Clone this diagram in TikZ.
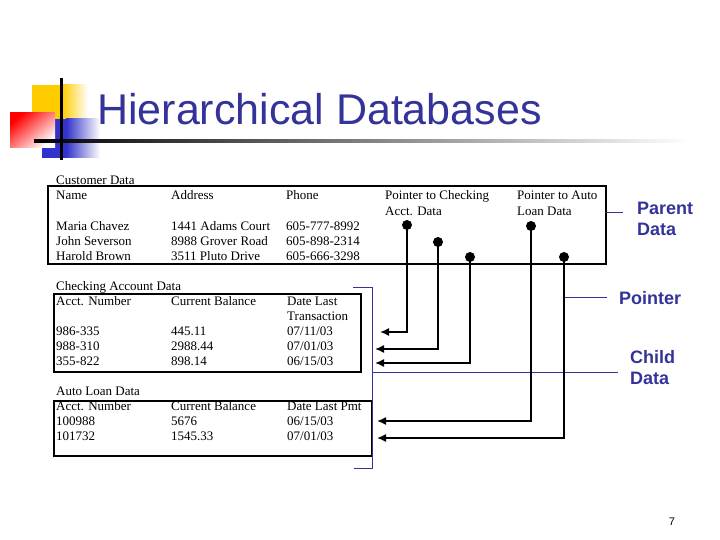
\documentclass[tikz,border=0pt]{standalone}
\usepackage{fontspec}
\setmainfont{Liberation Serif}
\newfontfamily\slidefont{Liberation Sans}
\usepackage{tikz}
\usetikzlibrary{arrows.meta}
\definecolor{slideblue}{HTML}{333399}
\definecolor{logoyellow}{HTML}{FFCC00}
\definecolor{logoblue}{HTML}{3333CC}
\definecolor{logored}{HTML}{FF0000}

\begin{document}
\begin{tikzpicture}[x=1pt,y=-1pt,
  cell/.style={anchor=base west,inner sep=0pt,font=\fontsize{13}{15}\selectfont},
  tbl/.style={draw,line width=1.1pt},
  bullet/.style={circle,fill,inner sep=0pt,minimum size=10pt},
  ptr/.style={line width=1.5pt,-{Latex[length=9pt,width=8pt]}},
  brk/.style={slideblue,line width=0.9pt},
  lbl/.style={anchor=north west,inner sep=0pt,align=left,text=slideblue,font=\slidefont\bfseries\fontsize{18}{21}\selectfont}]
\useasboundingbox (0,0) rectangle (720,540);

% logo and rule
\fill[logoyellow] (32,85) rectangle (62,120);
\shade[left color=logoyellow,right color=white] (62,85) rectangle (88,120);
\fill[logoblue] (42,119) rectangle (66,158);
\shade[left color=logoblue,right color=white] (66,119) rectangle (100,158);
\shade[left color=logored,right color=white,shading angle=40] (10,113) rectangle (55,148);
\shade[left color=black,right color=white] (34,139.5) rectangle (690,142.5);
\draw[line width=3pt] (61,78) -- (61,160);
\node[anchor=base west,inner sep=0pt,text=slideblue,font=\slidefont\fontsize{43}{50}\selectfont] (title) at (97,125) {Hierarchical Databases};

% parent table
\node[cell] (custcap) at (56,185) {Customer Data};
\draw[tbl] (48,186) rectangle (606,264);
\foreach \x/\t [count=\i] in {56/Name,171/Address,286/Phone,385/Pointer to Checking,517/Pointer to Auto} {
  \node[cell] (custhd\i) at (\x,200) {\t};
}
\node[cell] (custhd6) at (385,215.5) {Acct. Data};
\node[cell] (custhd7) at (517,215.5) {Loan Data};
\foreach \y/\n/\a/\p [count=\i] in %
{230.5/Maria Chavez/1441 Adams Court/605-777-8992,
 245.5/John Severson/8988 Grover Road/605-898-2314,
 260.5/Harold Brown/3511 Pluto Drive/605-666-3298} {
  \node[cell] (name\i) at (56,\y) {\n};
  \node[cell] (addr\i) at (171,\y) {\a};
  \node[cell] (phone\i) at (286,\y) {\p};
}

% checking table
\node[cell] (chkcap) at (56,290) {Checking Account Data};
\draw[tbl] (54,294) rectangle (361,372);
\node[cell] (chkhd1) at (56,305.5) {Acct. Number};
\node[cell] (chkhd2) at (171,305.5) {Current Balance};
\node[cell] (chkhd3) at (287,305.5) {Date Last};
\node[cell] (chkhd4) at (287,320.5) {Transaction};
\foreach \y/\n/\b/\d [count=\i] in %
{335.5/986-335/445.11/{07/11/03},
 350.5/988-310/2988.44/{07/01/03},
 365.5/355-822/898.14/{06/15/03}} {
  \node[cell] (chknum\i) at (56,\y) {\n};
  \node[cell] (chkbal\i) at (171,\y) {\b};
  \node[cell] (chkdate\i) at (287,\y) {\d};
}

% auto loan table
\node[cell] (autocap) at (56,395.5) {Auto Loan Data};
\draw[tbl] (54,401) rectangle (372,456);
\node[cell] (autohd1) at (56,410.5) {Acct. Number};
\node[cell] (autohd2) at (171,410.5) {Current Balance};
\node[cell] (autohd3) at (287,410.5) {Date Last Pmt};
\foreach \y/\n/\b/\d [count=\i] in %
{425.5/100988/5676/{06/15/03},
 440.5/101732/1545.33/{07/01/03}} {
  \node[cell] (autonum\i) at (56,\y) {\n};
  \node[cell] (autobal\i) at (171,\y) {\b};
  \node[cell] (autodate\i) at (287,\y) {\d};
}

% labels at the right
\node[lbl] (parent) at (637,202) {Parent\\Data};
\node[lbl] (pointer) at (619,291) {Pointer};
\node[lbl] (child) at (630,350) {Child\\Data};
\coordinate (parentend) at (623,212);
\coordinate (pointerend) at (607,297);
\coordinate (childend) at (618,372);
\draw[brk] (606,212) -- (parentend);
\draw[brk] (353,287) -- (372,287) -- (372,468) -- (354,468);
\draw[brk] (372,372) -- (childend);
\draw[brk] (564,297) -- (pointerend);

% pointers
\foreach \x/\y [count=\i] in {407/225,438/242,470/257,531/226,564/257} {
  \node[bullet] (dot\i) at (\x,\y) {};
}
\foreach \x/\y [count=\i] in {380/332,375/349,375/363,377/421,377/438} {
  \coordinate (tip\i) at (\x,\y);
}
\foreach \i in {1,...,5} {
  \draw[ptr] (dot\i.center) |- (tip\i);
}

\node[font=\slidefont\fontsize{11}{13}\selectfont] (pagenum) at (672,522) {7};
\end{tikzpicture}
\end{document}
